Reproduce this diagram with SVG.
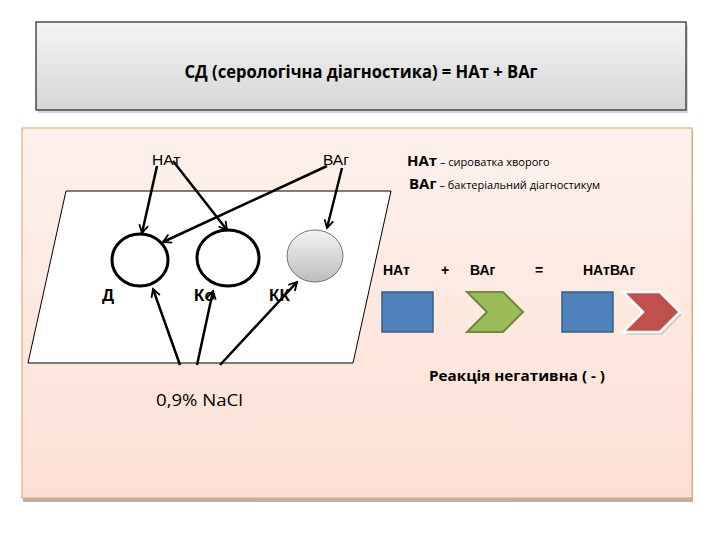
<svg xmlns="http://www.w3.org/2000/svg" width="720" height="540" viewBox="0 0 720 540">
<style>
.lbl{font-family:"Liberation Sans",Arial,sans-serif;font-size:15.5px;fill:#000}
.bl{font-family:"Liberation Sans",Arial,sans-serif;font-weight:bold;fill:#000}
.cal{font-family:"Open Sans","Noto Sans",sans-serif;fill:#000}
.conn line{stroke:#000;stroke-width:2.5;marker-end:url(#ah)}
</style>
<defs>
<linearGradient id="tg" x1="0" y1="0" x2="0" y2="1">
<stop offset="0" stop-color="#f4f4f4"/><stop offset="1" stop-color="#d6d6d6"/>
</linearGradient>
<linearGradient id="pg" x1="0" y1="0" x2="0" y2="1">
<stop offset="0" stop-color="#fdf1ec"/><stop offset="1" stop-color="#fde0d4"/>
</linearGradient>
<linearGradient id="gg" x1="0" y1="0" x2="0" y2="1">
<stop offset="0" stop-color="#f3f3f3"/><stop offset="1" stop-color="#bdbdbd"/>
</linearGradient>
<marker id="ah" markerUnits="userSpaceOnUse" markerWidth="14" markerHeight="14" refX="10" refY="5" orient="auto">
<path d="M2,0.5 L10,5 L2,9.5" fill="none" stroke="#000" stroke-width="1.8"/>
</marker>
</defs>
<rect width="720" height="540" fill="#fff"/>
<g id="title">
<rect x="38" y="25" width="650" height="88" fill="#bbb" opacity="0.6"/>
<rect x="36" y="22" width="650" height="88" fill="url(#tg)" stroke="#222" stroke-width="1.2"/>
<text x="361" y="78" text-anchor="middle" class="cal" font-size="17" font-weight="bold" textLength="353" lengthAdjust="spacingAndGlyphs">СД (серологічна діагностика) = НАт +  ВАг</text>
</g>
<g id="panel">
<rect x="23" y="130" width="670" height="372" fill="#a09080" opacity="0.7"/>
<rect x="22" y="128" width="670" height="370" fill="url(#pg)" stroke="#e8ad78" stroke-width="1.2"/>
</g>
<g id="slide">
<polygon points="66,191 391,191 353,363 28,363" fill="#fff" stroke="#000" stroke-width="1"/>
</g>
<g id="well-d">
<ellipse cx="140" cy="260" rx="28" ry="26" fill="#fff" stroke="#000" stroke-width="3"/>
<text x="102" y="301" class="bl" font-size="17">Д</text>
</g>
<g id="well-ko">
<ellipse cx="228" cy="258" rx="31" ry="28" fill="#fff" stroke="#000" stroke-width="3"/>
<text x="194" y="301" class="bl" font-size="17">Ко</text>
</g>
<g id="well-kk">
<ellipse cx="315" cy="256" rx="28" ry="26" fill="url(#gg)" stroke="#555" stroke-width="0.8"/>
<text x="269" y="301" class="bl" font-size="17">КК</text>
</g>
<g id="lbl-nat"><text x="152" y="165" class="lbl">НАт</text></g>
<g id="lbl-vag"><text x="323" y="165" class="lbl">ВАг</text></g>
<g id="lbl-nacl"><text x="156" y="406" class="cal" font-size="16" textLength="87" lengthAdjust="spacingAndGlyphs">0,9%  NaCl</text></g>
<g id="legend">
<text x="407" y="166" class="cal"><tspan font-size="15" font-weight="bold">НАт</tspan><tspan font-size="11"> – сироватка хворого</tspan></text>
<text x="409" y="189" class="cal"><tspan font-size="15" font-weight="bold">ВАг</tspan><tspan font-size="11"> – бактеріальний діагностикум</tspan></text>
</g>
<g id="equation">
<text x="383" y="275" class="bl" font-size="14">НАт</text>
<text x="441" y="275" class="bl" font-size="14">+</text>
<text x="470" y="275" class="bl" font-size="14">ВАг</text>
<text x="535" y="275" class="bl" font-size="14">=</text>
<text x="583" y="275" class="bl" font-size="14">НАтВАг</text>
</g>
<g id="nat-box1"><rect x="382" y="292" width="51" height="40" fill="#4f81bd" stroke="#385d8a" stroke-width="1.5"/></g>
<g id="vag-chev1"><polygon points="467,292 503,292 523,312 503,332 467,332 487,312" fill="#9bbb59" stroke="#71893f" stroke-width="2"/></g>
<g id="nat-box2"><rect x="562" y="292" width="51" height="40" fill="#4f81bd" stroke="#385d8a" stroke-width="1.5"/></g>
<g id="vag-chev2">
<polygon points="626,295 662,295 682,315 662,335 626,335 646,315" fill="#000" opacity="0.12"/>
<polygon points="623,292 660,292 680,312 660,332 623,332 643,312" fill="#c0504d" stroke="#fff" stroke-width="2.5"/>
</g>
<g id="result"><text x="429" y="381" class="cal" font-size="15" font-weight="bold" textLength="176" lengthAdjust="spacingAndGlyphs">Реакція негативна ( - )</text></g>
<g id="connectors" class="conn">
<line x1="157" y1="166" x2="142" y2="233"/>
<line x1="173" y1="161" x2="227" y2="230"/>
<line x1="327" y1="166" x2="163" y2="242"/>
<line x1="342" y1="168" x2="327" y2="228"/>
<line x1="180" y1="365" x2="153" y2="289"/>
<line x1="197" y1="365" x2="213" y2="291"/>
<line x1="220" y1="365" x2="297" y2="282"/>
</g>
</svg>
